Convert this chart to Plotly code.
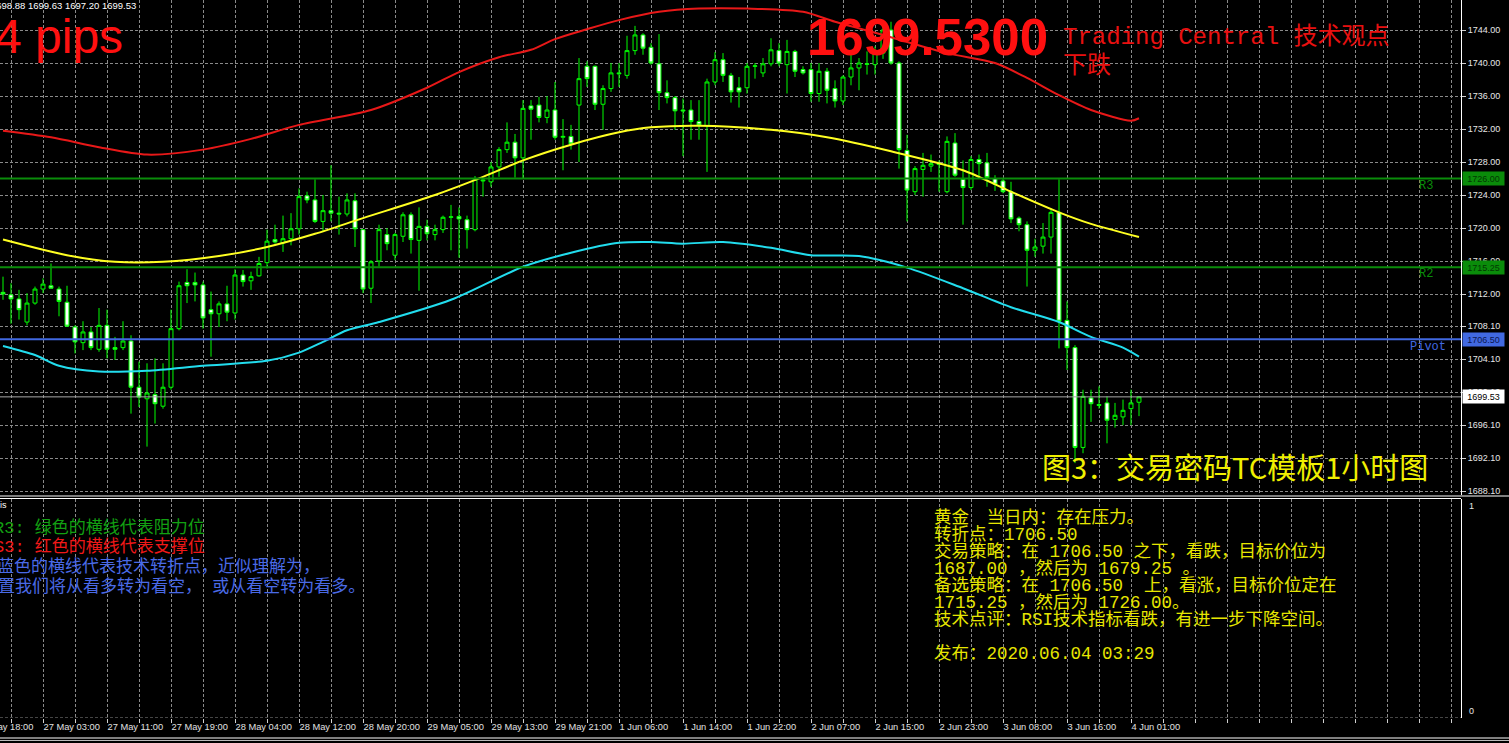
import plotly.graph_objects as go

# ---------------- data ----------------
bars = list(range(143))
opens = [1712.2,1711.9,1711.4,1708.6,1710.9,1712.6,1713.0,1712.6,1711.0,1708.0,
         1706.1,1707.4,1705.3,1708.2,1705.5,1705.5,1706.3,1700.7,1699.3,1699.8,
         1698.4,1700.7,1707.8,1713.4,1713.4,1713.1,1710.1,1709.6,1710.8,1709.7,
         1714.3,1713.6,1714.2,1715.8,1718.6,1718.2,1718.7,1719.9,1723.9,1723.4,
         1720.8,1722.1,1721.8,1721.7,1723.3,1719.8,1712.7,1716.0,1719.2,1716.7,
         1719.0,1721.6,1718.5,1720.2,1719.2,1719.8,1721.3,1721.4,1721.0,1719.8,
         1725.7,1725.6,1727.4,1729.5,1730.4,1728.5,1734.8,1734.9,1733.4,1734.3,
         1731.0,1731.1,1734.9,1739.6,1739.6,1735.0,1736.9,1738.8,1738.5,1741.5,
         1743.4,1741.9,1739.9,1736.4,1735.8,1734.3,1734.3,1732.9,1732.4,1737.7,
         1740.4,1738.5,1737.0,1737.0,1739.6,1738.8,1739.9,1741.5,1739.8,1741.4,
         1739.2,1739.2,1736.3,1739.0,1736.9,1735.4,1738.3,1739.4,1739.9,1739.8,
         1741.2,1744.0,1740.0,1729.4,1724.4,1727.1,1727.5,1727.8,1724.4,1730.3,
         1725.9,1724.9,1728.3,1727.9,1726.0,1725.7,1724.4,1721.2,1720.4,1717.3,
         1717.8,1718.9,1721.9,1708.8,1705.5,1693.4,1699.4,1698.6,1698.8,1696.8,
         1697.1,1698.1,1698.88]
highs = [1714.1,1713.3,1712.5,1712.1,1712.9,1713.9,1715.7,1712.9,1713.0,1708.2,
         1708.7,1708.0,1710.3,1710.1,1706.8,1708.7,1707.0,1703.8,1703.6,1704.2,
         1703.6,1710.1,1713.5,1715.0,1714.6,1713.5,1712.3,1711.1,1713.0,1715.0,
         1714.9,1714.7,1716.5,1719.8,1720.4,1721.5,1721.8,1724.8,1724.4,1725.9,
         1724.0,1727.6,1723.8,1724.2,1724.2,1719.8,1716.1,1720.4,1720.0,1719.4,
         1721.9,1721.9,1722.5,1721.0,1720.4,1721.5,1722.8,1722.5,1721.5,1726.3,
         1726.0,1728.0,1729.8,1732.8,1731.4,1735.5,1735.5,1735.9,1736.0,1737.7,
         1733.2,1732.5,1740.6,1740.2,1739.7,1737.3,1740.0,1740.0,1743.3,1744.5,
         1743.6,1742.4,1743.5,1737.9,1736.0,1735.7,1735.5,1735.5,1738.1,1741.3,
         1741.2,1738.8,1738.3,1740.0,1740.0,1740.6,1743.0,1742.4,1742.8,1741.6,
         1739.6,1740.0,1740.0,1739.4,1737.9,1738.5,1741.2,1740.6,1741.4,1742.0,
         1744.6,1745.0,1740.2,1731.3,1727.5,1729.1,1728.9,1728.2,1731.1,1731.5,
         1728.2,1728.7,1728.9,1729.1,1726.4,1726.0,1725.6,1721.4,1720.8,1718.7,
         1720.6,1722.4,1725.9,1711.1,1705.8,1700.4,1700.4,1700.8,1699.6,1698.8,
         1699.2,1700.4,1699.63]
lows = [1711.3,1708.4,1708.9,1708.2,1710.7,1712.1,1712.7,1709.3,1708.0,1704.8,
        1705.2,1705.2,1705.0,1704.2,1704.0,1705.2,1697.5,1698.3,1693.5,1696.3,
        1698.1,1700.4,1707.6,1710.9,1711.1,1707.8,1704.4,1708.0,1708.7,1708.9,
        1712.9,1712.5,1714.1,1715.1,1718.1,1717.1,1717.9,1719.2,1723.0,1720.6,
        1719.6,1720.8,1719.2,1721.4,1717.7,1712.1,1710.9,1715.3,1717.3,1716.1,
        1718.3,1716.9,1712.4,1718.5,1718.5,1719.4,1717.3,1716.4,1717.5,1719.6,
        1723.8,1725.0,1726.2,1729.1,1726.1,1726.0,1730.7,1732.8,1732.7,1730.7,
        1727.0,1729.5,1728.0,1737.1,1734.3,1731.9,1736.5,1737.1,1738.1,1741.0,
        1741.0,1739.8,1734.3,1735.1,1731.9,1728.7,1730.7,1730.7,1726.8,1737.3,
        1737.7,1735.2,1734.6,1736.3,1738.1,1738.3,1739.6,1739.6,1736.3,1738.3,
        1738.6,1735.3,1735.3,1735.1,1734.6,1734.9,1737.3,1736.7,1738.6,1738.6,
        1740.5,1739.8,1727.2,1720.8,1724.0,1723.8,1726.8,1724.4,1724.2,1726.2,
        1720.4,1724.6,1726.0,1725.0,1724.5,1724.2,1720.6,1719.6,1712.9,1716.5,
        1716.9,1716.9,1705.4,1702.8,1691.5,1692.7,1696.5,1698.1,1693.9,1695.8,
        1696.1,1696.1,1697.20]
closes = [1712.0,1711.4,1710.1,1710.9,1712.6,1713.2,1712.7,1711.1,1708.1,1706.2,
          1707.4,1705.5,1708.2,1705.3,1705.3,1706.3,1700.7,1699.5,1700.0,1698.7,
          1700.7,1707.8,1713.0,1713.0,1713.1,1709.1,1709.6,1710.8,1709.8,1714.3,
          1713.5,1714.1,1715.7,1718.4,1718.3,1718.7,1719.9,1723.8,1723.4,1720.8,
          1722.1,1721.8,1721.7,1723.4,1719.9,1712.6,1715.9,1719.8,1718.1,1719.2,
          1721.6,1718.6,1720.2,1719.3,1719.8,1721.3,1721.35,1721.1,1719.8,1725.9,
          1725.8,1727.4,1729.5,1730.4,1728.5,1734.5,1734.4,1733.4,1734.3,1731.0,
          1731.1,1730.2,1738.1,1738.1,1735.0,1736.9,1738.8,1738.7,1741.5,1743.4,
          1741.8,1740.0,1736.4,1735.8,1734.2,1734.2,1732.9,1732.5,1737.7,1740.4,
          1738.5,1736.5,1736.5,1739.6,1739.65,1739.9,1741.6,1740.0,1741.4,1739.0,
          1738.8,1736.3,1739.0,1736.7,1735.4,1738.3,1739.4,1740.0,1739.85,1741.2,
          1744.0,1740.0,1729.5,1724.6,1727.2,1727.6,1727.8,1727.7,1730.5,1726.4,
          1724.9,1728.3,1727.8,1726.1,1725.3,1724.4,1721.1,1720.4,1717.3,1717.7,
          1718.9,1721.9,1708.7,1705.5,1693.4,1699.6,1698.7,1698.5,1696.7,1697.3,
          1697.9,1698.8,1699.53]

# band indicator (sampled along the bars)
upper_bars = [0, 6, 12, 18, 25, 31, 37, 46, 53, 57, 62, 66, 69, 73, 77, 82, 87, 93,
              100, 104, 110, 118, 124, 128, 132, 136, 141, 142]
upper_vals = [1731.8, 1731.0, 1729.8, 1728.9, 1729.5, 1730.8, 1732.5, 1734.3, 1737.0,
              1738.9, 1740.7, 1741.6, 1742.9, 1744.1, 1745.2, 1746.2, 1746.6, 1746.6,
              1746.2, 1745.0, 1743.4, 1741.2, 1740.0, 1738.2, 1736.1, 1734.3, 1733.0, 1733.3]
mid_bars = [0, 8, 14, 20, 27, 33, 39, 45, 54, 60, 65, 71, 77, 81, 87, 96, 103, 111,
            120, 126, 132, 136, 142]
mid_vals = [1718.6, 1716.7, 1715.9, 1715.9, 1716.6, 1717.7, 1719.3, 1721.2, 1724.0,
            1726.2, 1728.2, 1730.1, 1731.6, 1732.2, 1732.4, 1731.9, 1731.0, 1729.3,
            1727.0, 1724.4, 1721.9, 1720.5, 1718.9]
lower_bars = [0, 4, 7, 12, 18, 25, 33, 37, 40, 43, 47, 56, 65, 71, 77, 81, 85, 90, 96,
              101, 107, 113, 120, 126, 132, 136, 140, 142]
lower_vals = [1705.7, 1704.6, 1703.3, 1702.6, 1702.7, 1703.3, 1703.9, 1704.9, 1706.2,
              1707.6, 1708.6, 1711.3, 1715.3, 1717.0, 1718.2, 1718.3, 1718.1, 1718.3,
              1717.6, 1716.7, 1716.6, 1715.2, 1712.7, 1710.4, 1708.6, 1706.8, 1705.5, 1704.4]

# pivot levels
level_names = ["R3", "R2", "Pivot"]
level_values = [1726.00, 1715.25, 1706.50]
last_price = 1699.53

# axis labels
time_tick_bars = [5, 13, 21, 29, 37, 45, 53, 61, 69, 77, 85, 93, 101, 109, 117, 125, 133, 141]
time_tick_labels = ["27 May 03:00", "27 May 11:00", "27 May 19:00", "28 May 04:00",
                    "28 May 12:00", "28 May 20:00", "29 May 05:00", "29 May 13:00",
                    "29 May 21:00", "1 Jun 06:00", "1 Jun 14:00", "1 Jun 22:00",
                    "2 Jun 07:00", "2 Jun 15:00", "2 Jun 23:00", "3 Jun 08:00",
                    "3 Jun 16:00", "4 Jun 01:00"]
price_ticks = [1744.00, 1740.00, 1736.00, 1732.00, 1728.00, 1724.00, 1720.00, 1716.00,
               1712.00, 1708.10, 1704.10, 1700.10, 1696.10, 1692.10, 1688.10]

# ---------------- layout geometry ----------------
W, H = 1509, 743
PW, PB = 1461, 718          # plot area right edge / bottom (px)
MAIN_BOTTOM = 495           # bottom of price panel (px)
SUB_TOP = 499               # top of lower panel (px)
X_RANGE = [-0.375, 182.25]
Y_RANGE = [1687.636, 1747.636]


def px_x(p):
    return p / PW


def px_y(p):
    return (PB - p) / PB


GRID = "#8a8a8a"
DASH = "3px,2px"
LBL_FONT = "Liberation Sans, Arial, sans-serif"
MONO_CJK = "Liberation Mono, Noto Sans CJK SC, monospace"

fig = go.Figure()

fig.add_trace(go.Candlestick(
    x=bars, open=opens, high=highs, low=lows, close=closes,
    increasing=dict(line=dict(color="#00FF00", width=1), fillcolor="#000000"),
    decreasing=dict(line=dict(color="#00FF00", width=1), fillcolor="#FFFFFF"),
    whiskerwidth=0, hoverinfo="skip", xaxis="x", yaxis="y"))

for xs, ys, col in [(mid_bars, mid_vals, "#FFFF22"),
                    (upper_bars, upper_vals, "#E81818"),
                    (lower_bars, lower_vals, "#22DDEE")]:
    fig.add_trace(go.Scatter(x=xs, y=ys, mode="lines", hoverinfo="skip",
                             line=dict(color=col, width=2, shape="spline", smoothing=0.8),
                             xaxis="x", yaxis="y"))

grid_vals = [1 + 4 * k for k in range(46)]
lab = dict(zip(time_tick_bars, time_tick_labels))
grid_text = [lab.get(v, "") for v in grid_vals]

fig.update_layout(
    width=W, height=H,
    margin=dict(l=0, r=W - PW, t=0, b=H - PB, autoexpand=False),
    paper_bgcolor="black", plot_bgcolor="black",
    showlegend=False,
    xaxis=dict(domain=[0, 1], range=X_RANGE, anchor="y",
               tickmode="array", tickvals=grid_vals, showticklabels=False, ticks="",
               showgrid=True, gridcolor=GRID, griddash=DASH, gridwidth=1,
               zeroline=False, showline=False, rangeslider=dict(visible=False),
               fixedrange=True, automargin=False),
    xaxis2=dict(domain=[0, 1], range=X_RANGE, anchor="y2", matches="x",
                tickmode="array", tickvals=grid_vals, ticktext=grid_text,
                ticks="outside", ticklen=4, tickcolor="#d0d0d0", tickwidth=1,
                ticklabelposition="outside right", tickangle=0, automargin=False,
                tickfont=dict(family=LBL_FONT, size=9.3, color="#E0E0E0"),
                showgrid=True, gridcolor=GRID, griddash=DASH, gridwidth=1,
                zeroline=False, showline=False),
    yaxis=dict(domain=[px_y(MAIN_BOTTOM), 1], range=Y_RANGE, side="right", anchor="x",
               tickmode="array", tickvals=price_ticks,
               ticktext=["%.2f" % v for v in price_ticks],
               ticks="outside", ticklen=4, tickcolor="#d0d0d0", automargin=False,
               tickfont=dict(family=LBL_FONT, size=9, color="#E6E6E6"),
               showgrid=True, gridcolor=GRID, griddash=DASH, gridwidth=1,
               zeroline=False, showline=True, linecolor="#FFFFFF", linewidth=1),
    yaxis2=dict(domain=[0, px_y(SUB_TOP)], range=[0, 1], side="right", anchor="x2",
                showticklabels=False, ticks="", showgrid=False, zeroline=False,
                automargin=False, showline=True, linecolor="#FFFFFF", linewidth=1),
)

shapes = []
# pivot levels and last price line
level_colors = ["#0A8C0A", "#0A8C0A", "#4169E1"]
for v, c in zip(level_values, level_colors):
    shapes.append(dict(type="line", xref="paper", yref="y", x0=0, x1=1, y0=v, y1=v,
                       line=dict(color=c, width=2)))
shapes.append(dict(type="line", xref="paper", yref="y", x0=0, x1=1, y0=last_price, y1=last_price,
                   line=dict(color="#A8A8A8", width=1)))
# panel frame
shapes.append(dict(type="line", xref="paper", yref="paper", x0=0, x1=W / PW,
                   y0=px_y(496), y1=px_y(496), line=dict(color="white", width=1)))
shapes.append(dict(type="line", xref="paper", yref="paper", x0=0, x1=1,
                   y0=px_y(498.5), y1=px_y(498.5), line=dict(color="white", width=1)))
shapes.append(dict(type="line", xref="paper", yref="y2", x0=0, x1=1, y0=0, y1=0,
                   line=dict(color=GRID, width=1, dash=DASH)))
shapes.append(dict(type="line", xref="paper", yref="paper", x0=0, x1=W / PW,
                   y0=px_y(738), y1=px_y(738), line=dict(color="white", width=1)))
shapes.append(dict(type="line", xref="paper", yref="paper", x0=0, x1=W / PW,
                   y0=px_y(740.5), y1=px_y(740.5), line=dict(color="#bbbbbb", width=1)))
fig.update_layout(shapes=shapes)

ann = []


def text(x, y, s, size, color, family=LBL_FONT, xanchor="left", yref="paper", **kw):
    d = dict(x=px_x(x), y=(px_y(y) if yref == "paper" else y), xref="paper", yref=yref,
             text=s, showarrow=False, xanchor=xanchor, yanchor="middle",
             font=dict(family=family, size=size, color=color))
    d.update(kw)
    ann.append(d)


# header / titles
text(-11, 5, "1698.88 1699.63 1697.20 1699.53", 9.5, "#FFFFFF")
text(-7, 36, "4 pips", 48, "#FF1010")
text(805, 38, "<b>1699.5300</b>", 51, "#FF1010")
text(1061, 37, "Trading Central 技术观点", 24, "#E81010", family=MONO_CJK)
text(1061, 66, "下跌", 24, "#E81010", family=MONO_CJK)
text(1040, 466, "图3：交易密码TC模板1小时图", 29, "#F0F000", family="Noto Sans CJK SC")

# level labels inside the chart
text(1417, 186, "R3", 12, "#0A8C0A", family="Liberation Mono, monospace")
text(1417, 274, "R2", 12, "#0A8C0A", family="Liberation Mono, monospace")
text(1408, 347, "Pivot", 12, "#4169E1", family="Liberation Mono, monospace")

# price boxes on the right axis
box_specs = [(level_values[0], "#0A8C0A", "#033803"), (level_values[1], "#0A8C0A", "#033803"),
             (level_values[2], "#4169E1", "#0b1650"), (last_price, "#FFFFFF", "#000000")]
for v, bg, fg in box_specs:
    ann.append(dict(x=px_x(1462), y=v, xref="paper", yref="y", text="%.2f" % v,
                    showarrow=False, xanchor="left", yanchor="middle",
                    font=dict(family=LBL_FONT, size=9, color=fg),
                    bgcolor=bg, borderpad=1, width=39, height=11))

# lower panel labels
text(1467, 506, "1", 9, "#E6E6E6")
text(1467, 711, "0", 9, "#E6E6E6")
text(9, 505, "TC Analysis", 9, "#FFFFFF", xanchor="right")
text(35, 727, "26 May 18:00", 9.3, "#E0E0E0", xanchor="right")

# left description lines
left_lines = [("R3: 绿色的横线代表阻力位", "#12A012", -8),
              ("S3: 红色的横线代表支撑位", "#F01818", -8),
              ("蓝色的横线代表技术转折点，近似理解为，", "#4A6AE6", -5),
              ("置我们将从看多转为看空， 或从看空转为看多。", "#4A6AE6", -4)]
for (s, c, x0), yy in zip(left_lines, [528, 547, 567, 587]):
    text(x0, yy, s, 17, c, family=MONO_CJK)

# right description lines
right_lines = ["黄金　当日内：存在压力。",
               "转折点：1706.50",
               "交易策略：在 1706.50 之下，看跌，目标价位为",
               "1687.00 ，然后为 1679.25 。",
               "备选策略：在 1706.50  上，看涨，目标价位定在",
               "1715.25 ，然后为 1726.00。",
               "技术点评：RSI技术指标看跌，有进一步下降空间。",
               "发布：2020.06.04 03:29"]
for s, yy in zip(right_lines, [518, 535, 552, 569, 586, 603, 620, 654]):
    text(932, yy, s, 17.5, "#E6E600", family=MONO_CJK)

fig.update_layout(annotations=ann)

fig.write_html("out.html", config={"displayModeBar": False},
               post_script="document.body.style.margin='0px';document.body.style.overflow='hidden';")
